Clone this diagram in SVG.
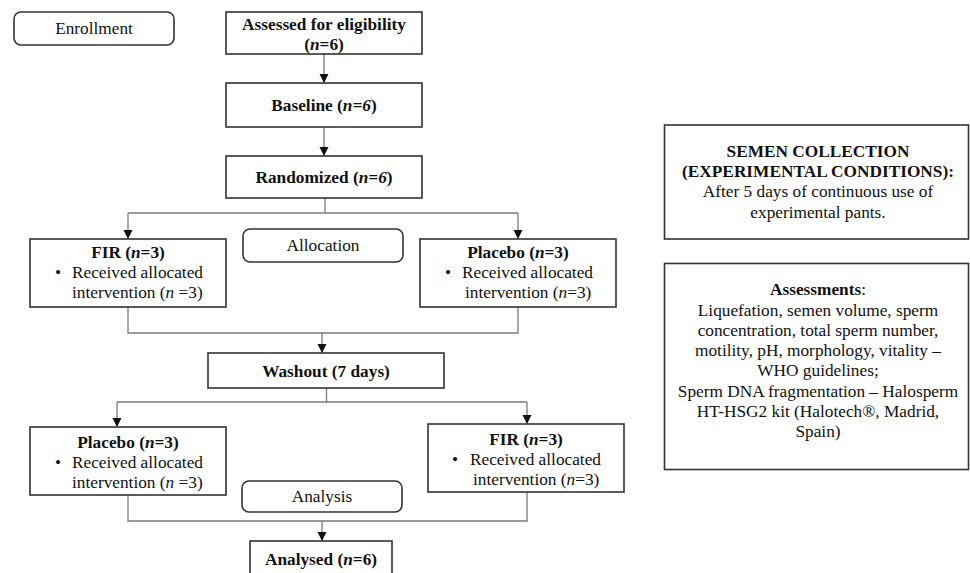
<svg xmlns="http://www.w3.org/2000/svg" width="970" height="573" viewBox="0 0 970 573">
<defs>
<marker id="ah" markerUnits="userSpaceOnUse" markerWidth="9" markerHeight="10" refX="9" refY="4.5" orient="auto" viewBox="0 0 9 9">
<path d="M0,0 L9,4.5 L0,9 z" fill="#111"/>
</marker>
<style>
.box{fill:#fff;stroke:#333;stroke-width:1.6}
.rbox{fill:#fff;stroke:#333;stroke-width:1.6}
.con{fill:none;stroke:#7a7a7a;stroke-width:1.3}
.arr{fill:none;stroke:#7a7a7a;stroke-width:1.3;marker-end:url(#ah)}
text{font-family:"Liberation Serif","Times New Roman",serif;font-size:17.3px;fill:#111}
.c{text-anchor:middle}
.b{font-weight:bold}
.i{font-style:italic}
</style>
</defs>
<rect width="970" height="573" fill="#fff"/>

<g id="connectors">
<line class="arr" x1="324" y1="54" x2="324" y2="83"/>
<line class="arr" x1="324" y1="127" x2="324" y2="156"/>
<polyline class="con" points="325,198 325,213"/>
<polyline class="con" points="128,213 518,213"/>
<line class="arr" x1="128" y1="213" x2="128" y2="239"/>
<line class="arr" x1="518" y1="213" x2="518" y2="239"/>
<polyline class="con" points="128,307 128,333 518,333 518,307"/>
<line class="arr" x1="322" y1="333" x2="322" y2="353"/>
<polyline class="con" points="326.5,388 326.5,402"/>
<polyline class="con" points="117,402 527,402"/>
<line class="arr" x1="117" y1="402" x2="117" y2="427"/>
<line class="arr" x1="527" y1="402" x2="527" y2="424"/>
<polyline class="con" points="128,495 128,521 527,521 527,492"/>
<line class="arr" x1="322" y1="521" x2="322" y2="541"/>
</g>

<g id="enrollment">
<rect class="rbox" x="14" y="12" width="160" height="33" rx="7"/>
<text class="c" x="94" y="34">Enrollment</text>
</g>

<g id="assessed">
<rect class="box" x="226" y="12" width="196" height="42"/>
<text class="c b" x="324" y="30">Assessed for eligibility</text>
<text class="c b" x="324" y="50">(<tspan class="i">n</tspan>=6)</text>
</g>

<g id="baseline">
<rect class="box" x="226" y="83" width="196" height="44"/>
<text class="c b" x="324" y="111">Baseline (<tspan class="i">n=6</tspan>)</text>
</g>

<g id="randomized">
<rect class="box" x="226" y="156" width="196" height="42"/>
<text class="c b" x="324" y="183">Randomized (<tspan class="i">n=6</tspan>)</text>
</g>

<g id="allocation">
<rect class="rbox" x="243" y="229" width="160" height="33" rx="7"/>
<text class="c" x="323" y="251">Allocation</text>
</g>

<g id="fir1">
<rect class="box" x="30" y="239" width="196" height="68"/>
<text class="c b" x="128" y="258">FIR (<tspan class="i">n</tspan>=3)</text>
<text x="55" y="278">•</text>
<text x="72" y="278">Received allocated</text>
<text x="72" y="298">intervention (<tspan class="i">n</tspan> =3)</text>
</g>

<g id="placebo1">
<rect class="box" x="420" y="239" width="196" height="68"/>
<text class="c b" x="518" y="258">Placebo (<tspan class="i">n</tspan>=3)</text>
<text x="445" y="278">•</text>
<text x="462" y="278">Received allocated</text>
<text x="465" y="298">intervention (<tspan class="i">n</tspan>=3)</text>
</g>

<g id="washout">
<rect class="box" x="208" y="353" width="236" height="35"/>
<text class="c b" x="326" y="377">Washout (7 days)</text>
</g>

<g id="placebo2">
<rect class="box" x="30" y="427" width="196" height="68"/>
<text class="c b" x="128" y="448">Placebo (<tspan class="i">n</tspan>=3)</text>
<text x="55" y="468">•</text>
<text x="72" y="468">Received allocated</text>
<text x="72" y="488">intervention (<tspan class="i">n</tspan> =3)</text>
</g>

<g id="fir2">
<rect class="box" x="428" y="424" width="196" height="68"/>
<text class="c b" x="526" y="445">FIR (<tspan class="i">n</tspan>=3)</text>
<text x="452" y="465">•</text>
<text x="470" y="465">Received allocated</text>
<text x="473" y="485">intervention (<tspan class="i">n</tspan>=3)</text>
</g>

<g id="analysis">
<rect class="rbox" x="242" y="481" width="160" height="31" rx="7"/>
<text class="c" x="322" y="502">Analysis</text>
</g>

<g id="analysed">
<rect class="box" x="250" y="541" width="142" height="40"/>
<text class="c b" x="321" y="565">Analysed (<tspan class="i">n</tspan>=6)</text>
</g>

<g id="semen">
<rect class="box" x="664.5" y="125" width="304" height="114"/>
<text class="c b" x="818" y="157">SEMEN COLLECTION</text>
<text class="c b" x="818" y="177">(EXPERIMENTAL CONDITIONS):</text>
<text class="c" x="818" y="197">After 5 days of continuous use of</text>
<text class="c" x="818" y="218">experimental pants.</text>
</g>

<g id="assessments">
<rect class="box" x="664.5" y="263.5" width="304" height="206"/>
<text class="c" x="818" y="295"><tspan class="b">Assessments</tspan>:</text>
<text class="c" x="818" y="315.5">Liquefation, semen volume, sperm</text>
<text class="c" x="818" y="336">concentration, total sperm number,</text>
<text class="c" x="818" y="356">motility, pH, morphology, vitality –</text>
<text class="c" x="818" y="376">WHO guidelines;</text>
<text class="c" x="818" y="396.5">Sperm DNA fragmentation – Halosperm</text>
<text class="c" x="818" y="416.5">HT-HSG2 kit (Halotech®, Madrid,</text>
<text class="c" x="818" y="436.5">Spain)</text>
</g>
</svg>
